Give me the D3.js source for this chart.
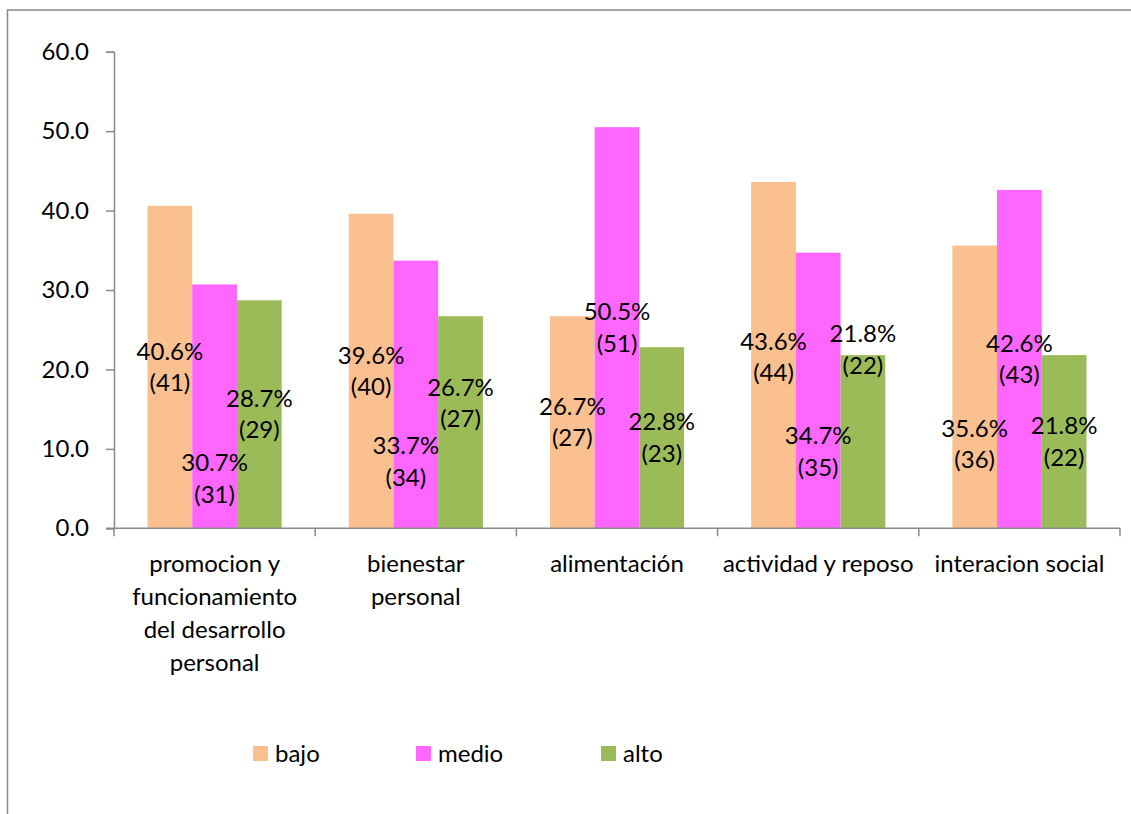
<!DOCTYPE html>
<html>
<head>
<meta charset="utf-8">
<script src="https://cdn.jsdelivr.net/npm/d3@7"></script>
<style>
  html, body { margin: 0; padding: 0; background: #fff; }
  svg text { font-family: Lato, "Open Sans", sans-serif; fill: #000; }
</style>
</head>
<body>
<div id="chart"></div>
<script>
// categorias y series
var categories = [
  "promocion y funcionamiento del desarrollo personal",
  "bienestar personal",
  "alimentación",
  "actividad y reposo",
  "interacion social"
];
var category_lines = [
  ["promocion y", "funcionamiento", "del desarrollo", "personal"],
  ["bienestar", "personal"],
  ["alimentación"],
  ["actividad y reposo"],
  ["interacion social"]
];
var series_names = ["bajo", "medio", "alto"];
var bajo_values  = [40.6, 39.6, 26.7, 43.6, 35.6];
var medio_values = [30.7, 33.7, 50.5, 34.7, 42.6];
var alto_values  = [28.7, 26.7, 22.8, 21.8, 21.8];
var bajo_counts  = [41, 40, 27, 44, 36];
var medio_counts = [31, 34, 51, 35, 43];
var alto_counts  = [29, 27, 23, 22, 22];
var y_ticks      = [0, 10, 20, 30, 40, 50, 60];

// etiquetas movidas a mano en el original (px desde el centro de la barra)
var label_dy = {
  bajo:  [0, 0, 0, 2, 57],
  medio: [72, 67, 0, 61, 0],
  alto:  [0, -19, 0, -92, 0]
};
var label_dx = {
  bajo:  [0, 0, 0, 0, 0],
  medio: [0, -10, 0, 0, 0],
  alto:  [0, 0, 0, 0, 0]
};

var colors = { bajo: "#FAC090", medio: "#FF66FF", alto: "#9BBB59" };
var values = { bajo: bajo_values, medio: medio_values, alto: alto_values };
var counts = { bajo: bajo_counts, medio: medio_counts, alto: alto_counts };

var width_chart  = 1131;
var height_chart = 814;
var font_size    = 24;
var line_step    = 31.5;
var axis_color   = "#898989";

var svg_chart = d3.select("#chart").append("svg")
  .attr("width", width_chart)
  .attr("height", height_chart);

// marco exterior
svg_chart.append("rect")
  .attr("x", 7.5)
  .attr("y", 10)
  .attr("width", width_chart + 20)
  .attr("height", height_chart + 20)
  .attr("fill", "none")
  .attr("stroke", axis_color)
  .attr("stroke-width", 1.5);

var x_chart = d3.scaleBand()
  .domain(categories)
  .range([114, 1120])
  .padding(0);

var x_inner = d3.scaleBand()
  .domain(series_names)
  .range([0, x_chart.bandwidth()])
  .paddingInner(0)
  .paddingOuter(0.75);

var y_chart = d3.scaleLinear()
  .domain([0, 60])
  .range([528.3, 51.7]);

// eje y
var axis_y = svg_chart.append("g")
  .attr("transform", "translate(114,0)")
  .call(d3.axisLeft(y_chart).tickValues(y_ticks).tickFormat(d3.format(".1f")).tickSize(8).tickPadding(17));

axis_y.select(".domain").attr("stroke", axis_color).attr("stroke-width", 1.5);
axis_y.selectAll(".tick line").attr("stroke", axis_color).attr("stroke-width", 1.5);
axis_y.selectAll(".tick text")
  .style("font-family", "Lato, 'Open Sans', sans-serif")
  .style("font-size", font_size + "px")
  .attr("fill", "#000");

// barras
var groups = svg_chart.append("g").selectAll("g")
  .data(categories)
  .join("g")
  .attr("transform", function (d) { return "translate(" + x_chart(d) + ",0)"; });

series_names.forEach(function (s) {
  groups.append("rect")
    .attr("x", x_inner(s))
    .attr("y", function (d, i) { return y_chart(values[s][i]); })
    .attr("width", x_inner.bandwidth())
    .attr("height", function (d, i) { return y_chart(0) - y_chart(values[s][i]); })
    .attr("fill", colors[s]);
});

// eje x (encima de las barras)
var axis_x = svg_chart.append("g")
  .attr("transform", "translate(0," + y_chart(0) + ")");

axis_x.append("line")
  .attr("x1", 106).attr("x2", 1120)
  .attr("y1", 0).attr("y2", 0)
  .attr("stroke", axis_color).attr("stroke-width", 1.5);

var x_edges = categories.map(function (d) { return x_chart(d); }).concat([x_chart.range()[1]]);
axis_x.selectAll("line.tick")
  .data(x_edges)
  .join("line")
  .attr("class", "tick")
  .attr("x1", function (d) { return d; })
  .attr("x2", function (d) { return d; })
  .attr("y1", 0).attr("y2", 8)
  .attr("stroke", axis_color).attr("stroke-width", 1.5);

axis_x.selectAll("text.cat")
  .data(categories)
  .join("text")
  .attr("class", "cat")
  .attr("text-anchor", "middle")
  .style("font-size", font_size + "px")
  .attr("transform", function (d) { return "translate(" + (x_chart(d) + x_chart.bandwidth() / 2) + ",35)"; })
  .selectAll("tspan")
  .data(function (d, i) { return category_lines[i]; })
  .join("tspan")
  .attr("x", 0)
  .attr("y", function (d, i) { return i * 33; })
  .attr("dy", "0.35em")
  .text(function (d) { return d; });

// etiquetas de datos
series_names.forEach(function (s) {
  var lab = groups.append("text")
    .attr("text-anchor", "middle")
    .style("font-size", font_size + "px")
    .attr("transform", function (d, i) {
      var cx = x_inner(s) + x_inner.bandwidth() / 2 + label_dx[s][i];
      var cy = (y_chart(values[s][i]) + y_chart(0)) / 2 + label_dy[s][i];
      return "translate(" + cx + "," + cy + ")";
    });
  lab.append("tspan")
    .attr("x", 0)
    .attr("y", -line_step / 2)
    .attr("dy", "0.35em")
    .text(function (d, i) { return values[s][i].toFixed(1) + "%"; });
  lab.append("tspan")
    .attr("x", 0)
    .attr("y", line_step / 2)
    .attr("dy", "0.35em")
    .text(function (d, i) { return "(" + counts[s][i] + ")"; });
});

// leyenda
var legend_x = [253, 416, 601];
var legend = svg_chart.append("g").selectAll("g")
  .data(series_names)
  .join("g")
  .attr("transform", function (d, i) { return "translate(" + legend_x[i] + ",746)"; });

legend.append("rect")
  .attr("width", 15).attr("height", 15)
  .attr("fill", function (d) { return colors[d]; });

legend.append("text")
  .attr("x", 22)
  .attr("y", 7.5)
  .attr("dy", "0.35em")
  .style("font-size", font_size + "px")
  .text(function (d) { return d; });
</script>
</body>
</html>
